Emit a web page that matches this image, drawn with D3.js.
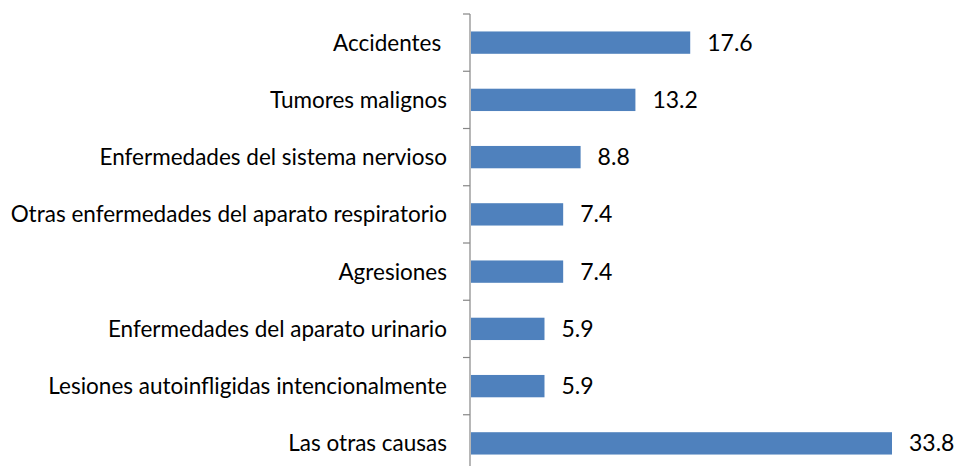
<!DOCTYPE html>
<html>
<head>
    <meta charset="utf-8">
    <style>
        body { margin: 0; background: #fff; }
        svg text { font-family: Lato, "Open Sans", sans-serif; fill: #000; }
    </style>
    <script src="https://d3js.org/d3.v7.min.js"></script>
</head>
<body>
<svg id="chart"></svg>
<script>
    const categories = [
        'Accidentes ',
        'Tumores malignos',
        'Enfermedades del sistema nervioso',
        'Otras enfermedades del aparato respiratorio',
        'Agresiones',
        'Enfermedades del aparato urinario',
        'Lesiones autoinfligidas intencionalmente',
        'Las otras causas'
    ];
    const values = [17.6, 13.2, 8.8, 7.4, 7.4, 5.9, 5.9, 33.8];

    const width = 957, height = 466;
    const axisX = 470;

    const svg = d3.select('#chart').attr('width', width).attr('height', height);

    // band per category, bars take ~39% of the step
    const y = d3.scaleBand()
        .domain(categories)
        .range([14, 14 + 8 * 57.25])
        .paddingInner(0.61)
        .paddingOuter(0.305);

    const x = d3.scaleLinear().domain([0, 33.8]).range([axisX + 1, 892]);

    // bars
    svg.selectAll('rect.bar')
        .data(values)
        .enter()
        .append('rect')
        .attr('class', 'bar')
        .attr('x', x(0))
        .attr('y', (d, i) => y(categories[i]))
        .attr('width', d => x(d) - x(0))
        .attr('height', y.bandwidth())
        .attr('fill', '#4F81BD');

    // value labels
    svg.selectAll('text.val')
        .data(values)
        .enter()
        .append('text')
        .attr('class', 'val')
        .attr('x', d => x(d) + 17)
        .attr('y', (d, i) => y(categories[i]) + y.bandwidth() / 2)
        .attr('dy', '0.35em')
        .style('font-size', '23px')
        .text(d => d.toFixed(1));

    // category labels
    svg.selectAll('text.cat')
        .data(categories)
        .enter()
        .append('text')
        .attr('class', 'cat')
        .attr('x', 447)
        .attr('y', d => y(d) + y.bandwidth() / 2)
        .attr('dy', '0.35em')
        .attr('text-anchor', 'end')
        .style('font-size', '22.5px')
        .style('white-space', 'pre')
        .text(d => d);

    // vertical axis with ticks between categories
    const step = y.step();
    const y0 = y.range()[0];
    const ax = svg.append('g').attr('stroke', '#868686').attr('stroke-width', 1.2);
    ax.append('line')
        .attr('x1', axisX).attr('x2', axisX)
        .attr('y1', y0).attr('y2', y0 + step * categories.length);
    ax.selectAll('line.tick')
        .data(d3.range(categories.length + 1))
        .enter()
        .append('line')
        .attr('class', 'tick')
        .attr('x1', axisX - 7).attr('x2', axisX)
        .attr('y1', i => y0 + i * step)
        .attr('y2', i => y0 + i * step);
</script>
</body>
</html>
